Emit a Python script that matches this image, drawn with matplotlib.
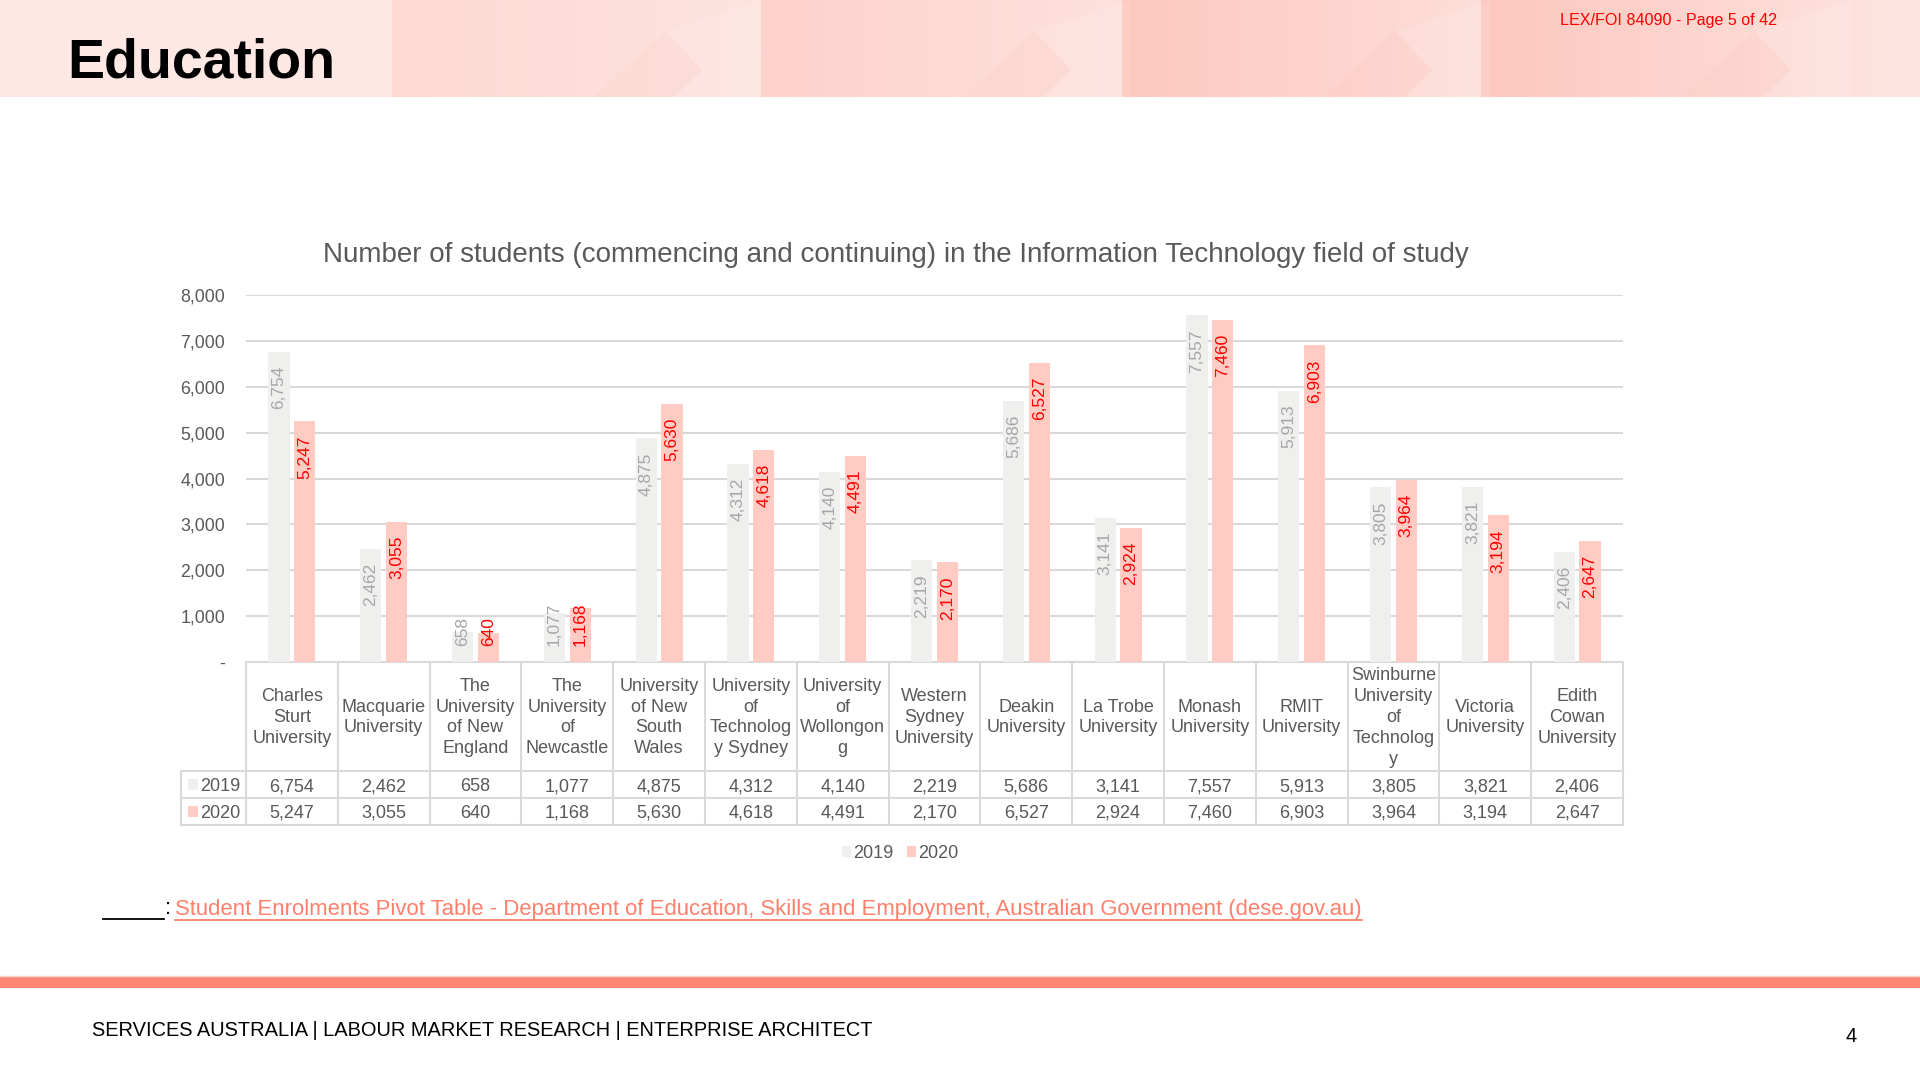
import numpy as np
import matplotlib
matplotlib.use("Agg")
import matplotlib.pyplot as plt
from matplotlib.patches import Rectangle, Polygon
from matplotlib.colors import to_rgb

plt.rcParams['font.family'] = ['Liberation Sans', 'DejaVu Sans']

# ---- data ----
universities = ["Charles\nSturt\nUniversity", "Macquarie\nUniversity",
                "The\nUniversity\nof New\nEngland", "The\nUniversity\nof\nNewcastle",
                "University\nof New\nSouth\nWales", "University\nof\nTechnolog\ny Sydney",
                "University\nof\nWollongon\ng", "Western\nSydney\nUniversity",
                "Deakin\nUniversity", "La Trobe\nUniversity", "Monash\nUniversity",
                "RMIT\nUniversity", "Swinburne\nUniversity\nof\nTechnolog\ny",
                "Victoria\nUniversity", "Edith\nCowan\nUniversity"]
students_2019 = [6754, 2462, 658, 1077, 4875, 4312, 4140, 2219, 5686, 3141,
                 7557, 5913, 3805, 3821, 2406]
students_2020 = [5247, 3055, 640, 1168, 5630, 4618, 4491, 2170, 6527, 2924,
                 7460, 6903, 3964, 3194, 2647]
years = ["2019", "2020"]
y_ticks = [0, 1000, 2000, 3000, 4000, 5000, 6000, 7000, 8000]

title = "Number of students (commencing and continuing) in the Information Technology field of study"
source = ("Student Enrolments Pivot Table - Department of Education, Skills and "
          "Employment, Australian Government (dese.gov.au)")
footer = "SERVICES AUSTRALIA | LABOUR MARKET RESEARCH | ENTERPRISE ARCHITECT"

c2019 = "#EFEFED"
c2020 = "#FFCBC3"
grid_c = "#D9D9D9"
txt_c = "#595959"

W, H = 1920, 1080
fig = plt.figure(figsize=(19.2, 10.8), dpi=100)
bg = fig.add_axes([0, 0, 1, 1])
bg.axis('off')

# header band with pink panels
hh = 97
panels = [(0, 392, "#FEE9E6", "#FEE8E4"),
          (392, 761, "#FDD9D3", "#FEE3DE"),
          (761, 1122, "#FDD2CB", "#FEE1DC"),
          (1122, 1481, "#FCC8BF", "#FEDED8"),
          (1481, 1920, "#FCC7BE", "#FEE5E1")]
for x0, x1, cl, cr in panels:
    grad = np.linspace(to_rgb(cl), to_rgb(cr), 64)[None, :, :]
    bg.imshow(grad, extent=(x0, x1, hh, 0), aspect='auto',
              interpolation='bilinear', zorder=0)
for x0, x1, cl, cr in panels[1:]:
    # faint chevron shapes like the slide template
    bg.add_patch(Polygon([(x0 + 273, 31), (x0 + 369, 0), (x0 + 369, hh),
                          (x0 + 282, hh), (x0 + 310, 70)],
                         closed=True, fc="white", alpha=0.12, lw=0, zorder=1))
    bg.add_patch(Polygon([(x0 + 202, hh), (x0 + 273, 31), (x0 + 310, 70),
                          (x0 + 282, hh)],
                         closed=True, fc="#F7A899", alpha=0.07, lw=0, zorder=1))
bg.set_xlim(0, W)
bg.set_ylim(H, 0)

bg.text(67, 64, "Education", fontsize=40, fontweight='bold', color='black',
        va='center', ha='left', zorder=3)
bg.text(1560, 20, "LEX/FOI 84090 - Page 5 of 42", fontsize=11.6, color='#FF0000',
        va='center', ha='left', zorder=3)

# chart title
bg.text(896, 255, title, fontsize=20, color=txt_c, ha='center', va='center')

# ---- bar chart ----
left, right, top, base = 246, 1623, 295, 662
ax = fig.add_axes([left / W, 1 - base / H, (right - left) / W, (base - top) / H])
x = np.arange(len(universities))
off, bw = 0.14, 0.23
ax.bar(x - off, students_2019, width=bw, color=c2019, zorder=2)
ax.bar(x + off, students_2020, width=bw, color=c2020, zorder=2)
ax.set_xlim(-0.5, len(universities) - 0.5)
ax.set_ylim(0, 8000)
ax.set_yticks(y_ticks)
ax.set_yticklabels([f"{t:,}" if t else "-" for t in y_ticks], fontsize=12.8, color=txt_c)
ax.set_xticks([])
ax.yaxis.grid(True, color=grid_c, lw=1.5)
ax.set_axisbelow(True)
ax.tick_params(axis='y', length=0, pad=15)
for s in ax.spines.values():
    s.set_visible(False)
ax.patch.set_alpha(0)

# value labels, "inside end"; pushed up when the bar is too short
labels = []
for xs, vals, col in [(x - off, students_2019, '#A6A6A6'),
                      (x + off, students_2020, '#FF0000')]:
    for xi, v in zip(xs, vals):
        t = ax.annotate(f"{v:,}", (xi, v), xytext=(0, -10), textcoords='offset points',
                        rotation=90, ha='center', va='top', fontsize=12.5, color=col)
        labels.append((t, xi))
fig.canvas.draw()
base_px = ax.transData.transform((0, 0))[1]
for t, xi in labels:
    bb = t.get_window_extent()
    if bb.y0 < base_px + 16:
        t.xy = (xi, 0)
        t.set_va('bottom')
        t.set_position((0, 11.5))

# ---- data table under the chart ----
colw = (right - left) / len(universities)
rows_y = [662, 771, 798, 825]
lab_left = 181
lw_t = 1.5
bg.plot([left, right], [rows_y[0]] * 2, color=grid_c, lw=lw_t)
for yy in rows_y[1:]:
    bg.plot([lab_left, right], [yy, yy], color=grid_c, lw=lw_t)
for i in range(len(universities) + 1):
    xx = left + i * colw
    bg.plot([xx, xx], [rows_y[0], rows_y[-1]], color=grid_c, lw=lw_t)
bg.plot([lab_left, lab_left], [rows_y[1], rows_y[-1]], color=grid_c, lw=lw_t)

for i, name in enumerate(universities):
    cx = left + (i + 0.5) * colw
    bg.text(cx, (rows_y[0] + rows_y[1]) / 2 + 1, name, ha='center', va='center',
            fontsize=13, color=txt_c, linespacing=1.3)
    for r, vals in enumerate([students_2019, students_2020]):
        bg.text(cx, (rows_y[r + 1] + rows_y[r + 2]) / 2 + 6.5, f"{vals[i]:,}",
                ha='center', va='baseline', fontsize=13, color=txt_c)
for r, (yr, c) in enumerate(zip(years, [c2019, c2020])):
    cy = (rows_y[r + 1] + rows_y[r + 2]) / 2
    bg.add_patch(Rectangle((188, cy - 6), 10, 11, fc=c, lw=0))
    bg.text(200, cy + 6.5, yr, ha='left', va='baseline', fontsize=13, color=txt_c)

# legend
for (yr, c, lx) in zip(years, [c2019, c2020], [842, 907]):
    bg.add_patch(Rectangle((lx, 846), 9, 11, fc=c, lw=0))
    bg.text(lx + 11, 857.5, yr, ha='left', va='baseline', fontsize=13, color=txt_c)

# source line
bg.plot([103, 164], [919, 919], color='black', lw=1.3)
bg.text(165, 909, ":", ha='left', va='center', fontsize=15.9, color='black')
link = bg.text(175, 909, source, ha='left', va='center', fontsize=15.9, color='#FF7F6B')
fig.canvas.draw()
bb = link.get_window_extent()
x_end = bb.x1 / fig.dpi / 19.2 * W
bg.plot([175, x_end], [920, 920], color='#FF7F6B', lw=1.3)

# footer
bg.add_patch(Rectangle((0, 976), W, 12, fc="#FF8674", lw=0))
bg.plot([0, W], [976, 976], color="#FFD3CB", lw=1)
bg.text(92, 1030, footer, ha='left', va='center', fontsize=14.4, color='black')
bg.text(1846, 1037, "4", ha='left', va='center', fontsize=14.4, color='black')

fig.savefig("out.png", dpi=100)
